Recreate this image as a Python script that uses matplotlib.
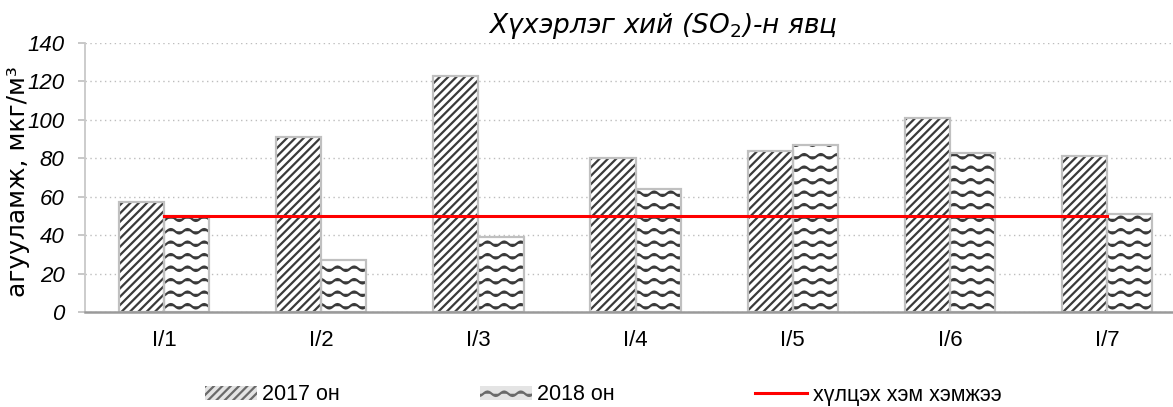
import warnings
import numpy as np
import matplotlib
matplotlib.use("Agg")
import matplotlib.pyplot as plt
import matplotlib.hatch as mhatch
from matplotlib.path import Path
from matplotlib.patches import Patch

warnings.filterwarnings("ignore")

categories = ["I/1", "I/2", "I/3", "I/4", "I/5", "I/6", "I/7"]
so2_2017 = [57, 91, 123, 80, 84, 101, 81]
so2_2018 = [50, 27, 39, 64, 87, 83, 51]
limit = [50] * len(categories)
y_ticks = [0, 20, 40, 60, 80, 100, 120, 140]


# wavy hatch ('~') - matplotlib has none built in
class WaveHatch(mhatch.HatchPatternBase):
    rows = 8
    periods = 6
    pts = 12

    def __init__(self, hatch, density):
        self.n = self.periods * self.pts + 1
        self.num_vertices = self.rows * self.n if "~" in hatch else 0

    def set_vertices_and_codes(self, vertices, codes):
        x = np.linspace(0, 1, self.n)
        for r in range(self.rows):
            y = (r + 0.5) / self.rows + 0.022 * np.sin(2 * np.pi * self.periods * x)
            vertices[r * self.n:(r + 1) * self.n, 0] = x
            vertices[r * self.n:(r + 1) * self.n, 1] = y
            codes[r * self.n] = Path.MOVETO
            codes[r * self.n + 1:(r + 1) * self.n] = Path.LINETO


mhatch._hatch_types.append(WaveHatch)

plt.rcParams["font.family"] = ["Liberation Sans", "DejaVu Sans"]
plt.rcParams["mathtext.fontset"] = "dejavusans"
plt.rcParams["hatch.linewidth"] = 1.6

W, H = 1173, 407
fig = plt.figure(figsize=(W / 100, H / 100), dpi=100)
ax = fig.add_axes([85.4 / W, 95 / H, (1185.8 - 85.4) / W, 269 / H])

x = np.arange(len(categories))
bw = 0.287
hatch_col = "#3a3a3a"
edge_col = "#c0c0c0"

ax.bar(x - bw / 2, so2_2017, bw, color="white", hatch="////",
       edgecolor=hatch_col, linewidth=0, zorder=2)
ax.bar(x + bw / 2, so2_2018, bw, color="white", hatch="~",
       edgecolor=hatch_col, linewidth=0, zorder=2)
ax.bar(x - bw / 2, so2_2017, bw, fill=False, edgecolor=edge_col, linewidth=1.6, zorder=3)
ax.bar(x + bw / 2, so2_2018, bw, fill=False, edgecolor=edge_col, linewidth=1.6, zorder=3)
ln, = ax.plot(x, limit, color="#ff0000", linewidth=2.2, zorder=4,
              label="хүлцэх хэм хэмжээ")

ax.set_xlim(-0.5, len(categories) - 0.5)
ax.set_ylim(0, 140)
ax.set_yticks(y_ticks, labels=[str(v) for v in y_ticks], fontstyle="italic", fontsize=16)
ax.set_xticks(x, labels=categories, fontsize=16)
ax.tick_params(axis="x", length=0, pad=13)
ax.tick_params(axis="y", length=5, width=1.2, color="#bfbfbf", pad=10)

ax.yaxis.grid(True, linestyle=(0, (1, 2.5)), color="#bdbdbd", linewidth=1.0, zorder=0)
ax.set_axisbelow(True)
for s in ["top", "right"]:
    ax.spines[s].set_visible(False)
ax.spines["left"].set_color("#c8c8c8")
ax.spines["left"].set_linewidth(1.3)
ax.spines["bottom"].set_color("#9a9a9a")
ax.spines["bottom"].set_linewidth(1.8)
ax.spines["bottom"].set_zorder(5)

fig.text(663 / W, 1 - 33 / H, "Хүхэрлэг хий (SO$_2$)-н явц", fontsize=19,
         family="DejaVu Sans", style="italic", ha="center", va="baseline")
fig.text(25 / W, 1 - 182 / H, "агууламж, мкг/м³", fontsize=18,
         family="DejaVu Sans", rotation=90, rotation_mode="anchor",
         ha="center", va="baseline")

h1 = Patch(facecolor="#e4e4e4", edgecolor="#6a6a6a", hatch="////", linewidth=0,
           label="2017 он")
h2 = Patch(facecolor="#e4e4e4", edgecolor="#6a6a6a", hatch="~", linewidth=0,
           label="2018 он")
fig.legend(handles=[h1, h2, ln], loc="center", bbox_to_anchor=(603 / W, 12 / H),
           ncol=3, frameon=False, fontsize=15.5, handlelength=2.42, handleheight=0.65,
           handletextpad=0.25, columnspacing=6.5)

fig.savefig("out.png", dpi=100)
